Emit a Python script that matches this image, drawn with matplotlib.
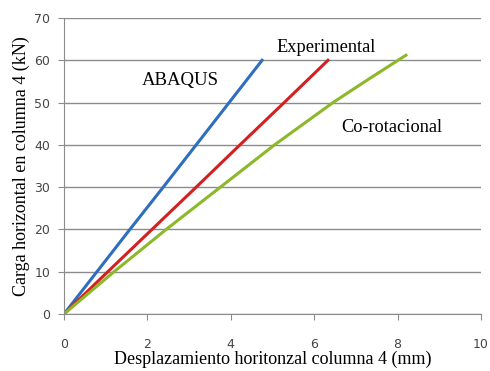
import matplotlib.pyplot as plt

# curve data (displacement mm, load kN)
abaqus_x = [0, 0.79, 1.58, 2.38, 3.17, 3.96, 4.75]
abaqus_y = [0, 10, 20, 30, 40, 50, 60]

exp_x = [0, 1.05, 2.11, 3.17, 4.22, 5.28, 6.33]
exp_y = [0, 10, 20, 30, 40, 50, 60]

corot_x = [0, 1.2, 2.45, 3.75, 5.05, 5.75, 6.45, 7.3, 8.2]
corot_y = [0, 10, 20, 30, 40, 45, 50, 55.5, 61.2]

x_ticks = [0, 2, 4, 6, 8, 10]
y_ticks = [0, 10, 20, 30, 40, 50, 60, 70]

fig = plt.figure(figsize=(4.9, 3.71), dpi=100)
ax = fig.add_axes([0.1306, 0.1536, 0.851, 0.7979])

ax.plot(abaqus_x, abaqus_y, color='#2f6ebf', linewidth=2.2)
ax.plot(exp_x, exp_y, color='#d42020', linewidth=2.2)
ax.plot(corot_x, corot_y, color='#8cb82a', linewidth=2.2)

serif = 'Liberation Serif'
ax.text(2.8, 55.3, 'ABAQUS', fontsize=13.5, family=serif, ha='center', va='center')
ax.text(6.28, 63.1, 'Experimental', fontsize=13.2, family=serif, ha='center', va='center')
ax.text(7.87, 44.0, 'Co-rotacional', fontsize=13.2, family=serif, ha='center', va='center')

ax.set_xlim(0, 10)
ax.set_ylim(0, 70)
ax.set_xticks(x_ticks)
ax.set_yticks(y_ticks)
ax.grid(axis='y', color='#8c8c8c', linewidth=1)
ax.set_axisbelow(True)
for s in ['top', 'right']:
    ax.spines[s].set_visible(False)
for s in ['left', 'bottom']:
    ax.spines[s].set_color('#8c8c8c')
ax.tick_params(colors='#8c8c8c', labelcolor='#454545', labelsize=9, length=4)
ax.tick_params(axis='x', pad=13)
ax.tick_params(axis='y', pad=6)

ax.set_xlabel('Desplazamiento horitonzal columna 4 (mm)', fontsize=13, family=serif, labelpad=0)
ax.set_ylabel('Carga horizontal en columna 4 (kN)', fontsize=13, family=serif, labelpad=3)

fig.savefig('out.png', dpi=100)
